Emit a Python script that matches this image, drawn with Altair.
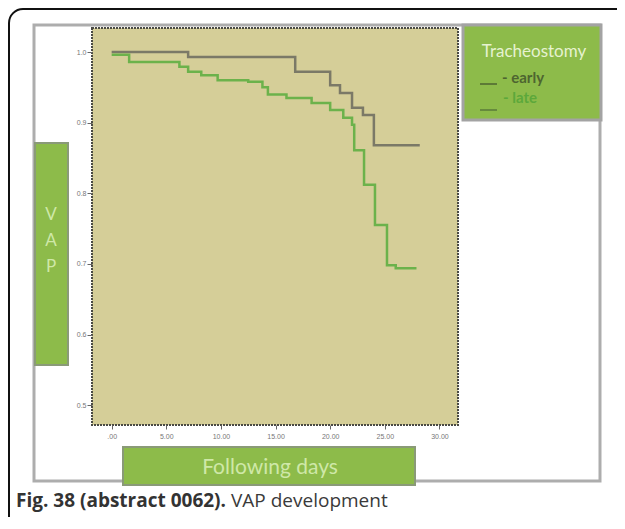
import altair as alt
import pandas as pd

# ---- data ----
groups = ["early", "late"]
early_days = [0, 7.0, 16.8, 20.0, 20.9, 22.0, 23.0, 24.0, 28.2]
early_vap = [1.0, 0.993, 0.972, 0.953, 0.942, 0.921, 0.911, 0.868, 0.868]
late_days = [0, 1.6, 6.2, 7.0, 8.2, 9.7, 12.5, 13.8, 14.3, 16.0, 18.3, 20.0,
             21.2, 22.0, 22.2, 23.1, 24.1, 25.2, 26.0, 27.9]
late_vap = [0.996, 0.986, 0.979, 0.972, 0.967, 0.960, 0.958, 0.950, 0.940, 0.935,
            0.928, 0.918, 0.907, 0.897, 0.861, 0.812, 0.755, 0.698, 0.694, 0.694]
x_ticks = [0, 5, 10, 15, 20, 25, 30]
y_ticks = [0.5, 0.6, 0.7, 0.8, 0.9, 1.0]
legend_title = "Tracheostomy"
legend_labels = ["- early", "- late"]
y_title_letters = ["V", "A", "P"]
x_title = "Following days"
caption_bold = "Fig. 38 (abstract 0062)."
caption_rest = "VAP development"

line_colors = ["#7b7967", "#6cb24b"]
W, H = 366, 397

df = pd.concat([
    pd.DataFrame({"day": early_days, "vap": early_vap, "group": groups[0]}),
    pd.DataFrame({"day": late_days, "vap": late_vap, "group": groups[1]}),
], ignore_index=True)

one = pd.DataFrame({"k": [0]})


def box(x1, x2, y1, y2, **kw):
    return alt.Chart(one).mark_rect(**kw).encode(
        x=alt.value(x1), x2=alt.value(x2), y=alt.value(y1), y2=alt.value(y2))


def label(text, x, y, **kw):
    return alt.Chart(pd.DataFrame({"t": [text]})).mark_text(**kw).encode(
        x=alt.value(x), y=alt.value(y), text="t:N")


outer = box(-83, 548, -19, 532, fill="white", fillOpacity=0, stroke="#111111",
            strokeWidth=2, cornerRadius=14)
frame = box(-58, 508, -3, 453, fill="white", stroke="#adadad", strokeWidth=3)
plotbg = box(0, W, 0, H, fill="#d5ce98", stroke="#4a4a44", strokeWidth=2,
             strokeDash=[2, 1])

ybox = box(-57, -24, 115, 337, fill="#8dbb4a", stroke="#8a9a78", strokeWidth=2)
xbox = box(31, 323, 419, 457, fill="#8dbb4a", stroke="#8a9a78", strokeWidth=2)
legbox = box(371, 509, -3, 92, fill="#8dbb4a", stroke="#a3a3a3", strokeWidth=3)

ytexts = [label(ch, -41, 187 + 26 * i, fontSize=17, font="Lato", color="#cfe8a8",
                baseline="middle", align="center")
          for i, ch in enumerate(y_title_letters)]
xtext = label(x_title, 178, 440, fontSize=21, font="Lato", color="#cfe8a8",
              baseline="middle", align="center")

leg_t = label(legend_title, 442, 24, fontSize=17, font="Lato", color="#e6f2d0",
              baseline="middle", align="center")
leg_early = label(legend_labels[0], 410, 50, fontSize=15, font="Lato",
                  color="#4e6530", baseline="middle", align="left", fontWeight="bold")
leg_late = label(legend_labels[1], 411, 70, fontSize=15, font="Lato",
                 color="#5ca83a", baseline="middle", align="left", fontWeight="bold")
sym1 = alt.Chart(one).mark_rule(color="#4e6530", strokeWidth=1.5).encode(
    x=alt.value(388), x2=alt.value(405), y=alt.value(56))
sym2 = alt.Chart(one).mark_rule(color="#5a7a3a", strokeWidth=1.5).encode(
    x=alt.value(388), x2=alt.value(405), y=alt.value(82))

cap1 = label(caption_bold, -76, 479, fontSize=19, font="Open Sans", color="#333333",
             fontWeight="bold", align="left", baseline="alphabetic")
cap2 = label(caption_rest, 139, 479, fontSize=19, font="Open Sans", color="#3a3a3a",
             align="left", baseline="alphabetic")

lines = alt.Chart(df).mark_line(interpolate="step-after", strokeWidth=2.5).encode(
    x=alt.X("day:Q", scale=alt.Scale(domain=[-1.8, 31.7], nice=False, zero=False),
            axis=alt.Axis(values=x_ticks, title=None, grid=False, domain=False,
                          labelExpr="datum.value == 0 ? '.00' : format(datum.value, '.2f')",
                          labelFontSize=7, labelColor="#777777", tickColor="#666666",
                          tickSize=4, labelPadding=3, zindex=1)),
    y=alt.Y("vap:Q", scale=alt.Scale(domain=[0.472, 1.034], nice=False, zero=False),
            axis=alt.Axis(values=y_ticks, title=None, grid=False, domain=False,
                          format=".1f", labelFontSize=7, labelColor="#777777",
                          tickColor="#666666", tickSize=5, labelPadding=1, zindex=1)),
    color=alt.Color("group:N", scale=alt.Scale(domain=groups, range=line_colors),
                    legend=None),
    order="day:Q",
)

chart = alt.layer(
    outer, frame, plotbg, ybox, xbox, legbox, *ytexts, xtext,
    leg_t, leg_early, leg_late, sym1, sym2, lines, cap1, cap2,
).properties(
    width=W, height=H,
    autosize=alt.AutoSizeParams(type="none"),
    padding={"left": 84, "top": 20, "right": 159, "bottom": 92},
).configure_view(stroke=None)

chart.save("out.html", embed_options={"renderer": "svg", "actions": False})
